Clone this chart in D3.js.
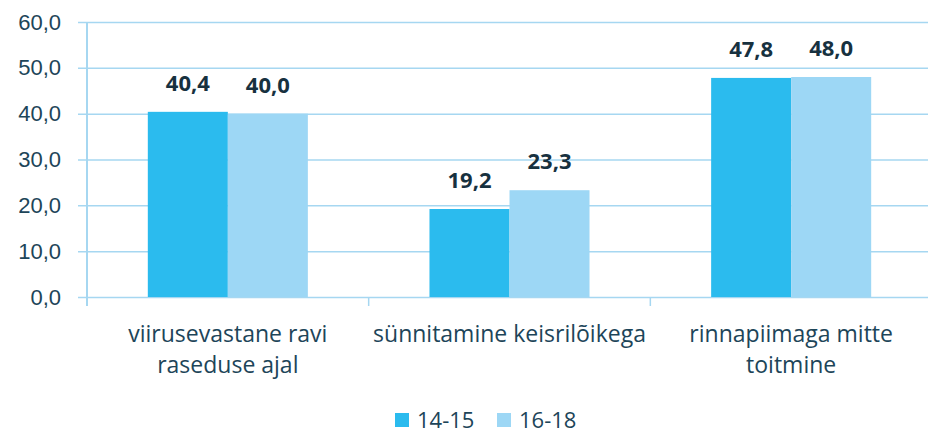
<!DOCTYPE html>
<html>
<head>
<meta charset="utf-8">
<script src="https://cdn.jsdelivr.net/npm/d3@7"></script>
<style>
  body { margin: 0; background: #fff; }
  svg { display: block; font-family: "Open Sans", sans-serif; }
</style>
</head>
<body>
<div id="chart"></div>
<script>
/* DATA */
const categories = [
  ["viirusevastane ravi", "raseduse ajal"],
  ["sünnitamine keisrilõikega"],
  ["rinnapiimaga mitte", "toitmine"]
];
const seriesNames = ["14-15", "16-18"];
const values1415 = [40.4, 19.2, 47.8];
const values1618 = [40.0, 23.3, 48.0];
const yTicks = [0, 10, 20, 30, 40, 50, 60];

/* CONSTANTS */
const width = 928, height = 434,
      margin = {top: 22, bottom: 137, left: 87, right: -4};
const colors = ["#2bbbee", "#9dd7f5"];
const textColor = "#1d4559";
const gridColor = "#a6d7f1";

const keys = categories.map((c, i) => i);
const data = keys.map(i => ({key: i, vals: [values1415[i], values1618[i]]}));

const svg = d3.select("#chart").append("svg")
  .attr("width", width)
  .attr("height", height);

/* SCALES */
const x = d3.scaleBand()
  .domain(keys)
  .range([margin.left, width - margin.right])
  .paddingInner(0)
  .paddingOuter(0);

const xInner = d3.scaleBand()
  .domain([0, 1])
  .range([0, x.bandwidth()])
  .paddingOuter(0.76)
  .paddingInner(0);

const y = d3.scaleLinear()
  .domain([0, 60])
  .range([height - margin.bottom, margin.top]);

/* GRIDLINES + Y AXIS */
const yAxis = svg.append("g")
  .attr("transform", `translate(${margin.left},0)`)
  .call(d3.axisLeft(y).tickValues(yTicks)
    .tickSize(-(width - margin.left - margin.right))
    .tickPadding(26)
    .tickFormat(d => d3.format(".1f")(d).replace(".", ",")));
yAxis.select(".domain").remove();
yAxis.selectAll(".tick line")
  .attr("x1", -9)
  .attr("stroke", gridColor)
  .attr("stroke-width", 1.5);
yAxis.selectAll(".tick text")
  .attr("fill", textColor)
  .style("font-size", "22px");

// vertical axis line
svg.append("line")
  .attr("x1", margin.left).attr("x2", margin.left)
  .attr("y1", y(60)).attr("y2", y(0) + 9)
  .attr("stroke", gridColor)
  .attr("stroke-width", 2);

/* X AXIS TICKS (category boundaries) */
svg.append("g")
  .selectAll("line")
  .data(keys.slice(1))
  .join("line")
    .attr("x1", d => x(d)).attr("x2", d => x(d))
    .attr("y1", y(0)).attr("y2", y(0) + 9)
    .attr("stroke", gridColor)
    .attr("stroke-width", 1.5);

/* BARS */
const groups = svg.append("g")
  .selectAll("g")
  .data(data)
  .join("g")
    .attr("transform", d => `translate(${x(d.key)},0)`);

groups.selectAll("rect")
  .data(d => d.vals.map((v, j) => ({v, j})))
  .join("rect")
    .attr("x", d => xInner(d.j))
    .attr("y", d => y(d.v))
    .attr("width", xInner.bandwidth())
    .attr("height", d => y(0) - y(d.v))
    .attr("fill", d => colors[d.j]);

/* VALUE LABELS */
groups.selectAll("text.val")
  .data(d => d.vals.map((v, j) => ({v, j})))
  .join("text")
    .attr("class", "val")
    .attr("x", d => xInner(d.j) + xInner.bandwidth() / 2)
    .attr("y", d => y(d.v) - 21)
    .attr("text-anchor", "middle")
    .attr("fill", "#17313f")
    .style("font-size", "22px")
    .style("font-weight", "bold")
    .text(d => d3.format(".1f")(d.v).replace(".", ","));

/* CATEGORY LABELS */
svg.append("g")
  .selectAll("text")
  .data(data)
  .join("text")
    .attr("x", d => x(d.key) + x.bandwidth() / 2)
    .attr("y", 342)
    .attr("text-anchor", "middle")
    .attr("fill", textColor)
    .style("font-size", "23px")
    .selectAll("tspan")
    .data(d => categories[d.key])
    .join("tspan")
      .attr("x", function() { return d3.select(this.parentNode).attr("x"); })
      .attr("dy", (d, i) => i === 0 ? 0 : 31)
      .text(d => d);

/* LEGEND */
const legend = svg.append("g")
  .selectAll("g")
  .data(seriesNames)
  .join("g")
    .attr("transform", (d, i) => `translate(${395 + i * 102},413)`);
legend.append("rect")
  .attr("width", 14).attr("height", 14)
  .attr("fill", (d, i) => colors[i]);
legend.append("text")
  .attr("x", 22)
  .attr("y", 15)
  .attr("fill", textColor)
  .style("font-size", "22px")
  .text(d => d);
</script>
</body>
</html>
